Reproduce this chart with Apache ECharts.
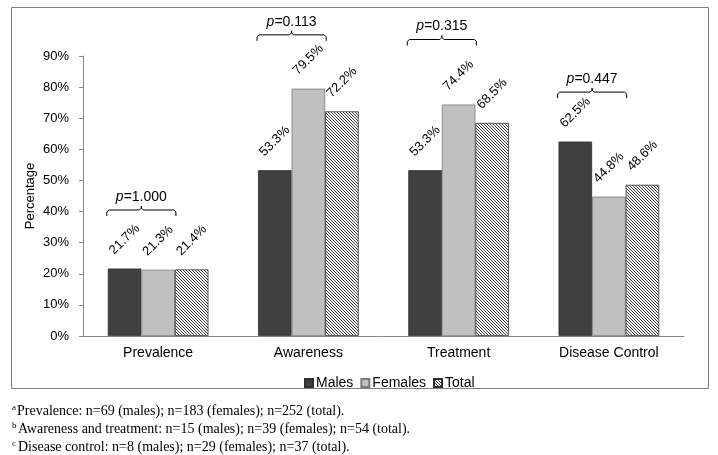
<!DOCTYPE html>
<html>
<head>
<meta charset="utf-8">
<script src="https://cdn.jsdelivr.net/npm/echarts@6/dist/echarts.min.js"></script>
<style>html,body{margin:0;padding:0;background:#fff}#c{width:718px;height:455px}</style>
</head>
<body>
<div id="c"></div>
<script>
const categories = ['Prevalence', 'Awareness', 'Treatment', 'Disease Control'];
const males = [21.7, 53.3, 53.3, 62.5];
const females = [21.3, 79.5, 74.4, 44.8];
const total = [21.4, 72.2, 68.5, 48.6];
const pValues = ['1.000', '0.113', '0.315', '0.447'];
const bracketLevels = [40.5, 96.8, 95.3, 78.4];
const yTicks = [0, 10, 20, 30, 40, 50, 60, 70, 80, 90];
const footnotes = [
  ['a', 'Prevalence: n=69 (males); n=183 (females); n=252 (total).'],
  ['b', 'Awareness and treatment: n=15 (males); n=39 (females); n=54 (total).'],
  ['c', 'Disease control: n=8 (males); n=29 (females); n=37 (total).']
];

function hatch() {
  const s = 3, cv = document.createElement('canvas');
  cv.width = s; cv.height = s;
  const ctx = cv.getContext('2d');
  ctx.fillStyle = '#ffffff'; ctx.fillRect(0, 0, s, s);
  ctx.strokeStyle = '#3a3a3a'; ctx.lineWidth = 1;
  for (const c of [-s, 0, s]) {
    ctx.beginPath(); ctx.moveTo(0, c); ctx.lineTo(s, s + c); ctx.stroke();
  }
  return cv;
}

const FONT = 'Liberation Sans, Arial, sans-serif';
const GAP = 0.33;
const chart = echarts.init(document.getElementById('c'), null, {renderer: 'canvas'});

const labelCfg = {
  show: true, position: 'top', distance: 29, rotate: 45,
  align: 'center', verticalAlign: 'middle',
  fontFamily: FONT, fontSize: 13, color: '#000',
  formatter: p => p.value.toFixed(1) + '%'
};

chart.setOption({
  animation: false,
  backgroundColor: '#fff',
  textStyle: {fontFamily: FONT},
  grid: {left: 83, right: 34, top: 56, bottom: 119},
  legend: {
    data: ['Males', 'Females', 'Total'],
    left: 299, top: 371, itemWidth: 8, itemHeight: 8, itemGap: 7,
    icon: 'rect',
    textStyle: {fontFamily: FONT, fontSize: 14, color: '#000', padding: [0, 0, 0, -2]}
  },
  xAxis: {
    type: 'category', data: categories,
    axisLine: {lineStyle: {color: '#868686'}},
    axisTick: {length: 4, lineStyle: {color: '#868686'}},
    axisLabel: {fontFamily: FONT, fontSize: 14, color: '#000', margin: 10}
  },
  yAxis: {
    type: 'value', min: yTicks[0], max: yTicks[yTicks.length - 1], interval: 10,
    name: 'Percentage', nameLocation: 'middle', nameGap: 46, nameMoveOverlap: false,
    nameTextStyle: {fontFamily: FONT, fontSize: 13, color: '#000'},
    splitLine: {show: false},
    axisLine: {show: true, lineStyle: {color: '#868686'}},
    axisTick: {show: true, length: 4, lineStyle: {color: '#868686'}},
    axisLabel: {fontFamily: FONT, fontSize: 13, color: '#000', margin: 14, formatter: '{value}%'}
  },
  series: [
    {name: 'Males', type: 'bar', data: males, barGap: '0%', barCategoryGap: (GAP * 100) + '%',
     itemStyle: {color: '#404040', borderColor: '#303030', borderWidth: 0.8}, label: labelCfg},
    {name: 'Females', type: 'bar', data: females, barGap: '0%', barCategoryGap: (GAP * 100) + '%',
     itemStyle: {color: '#c0c0c0', borderColor: '#7a7a7a', borderWidth: 0.8}, label: labelCfg},
    {name: 'Total', type: 'bar', data: total, barGap: '0%', barCategoryGap: (GAP * 100) + '%',
     itemStyle: {color: {image: hatch(), repeat: 'repeat'}, borderColor: '#303030', borderWidth: 0.8}, label: labelCfg},
    {
      type: 'custom', clip: false, silent: true, z: 10,
      data: bracketLevels.map((v, i) => [i, v]),
      renderItem: function (params, api) {
        const c = api.coord([api.value(0), api.value(1)]);
        const band = api.size([1, 0])[0];
        const bw = band * (1 - GAP) / 3;
        const x1 = c[0] - 1.5 * bw - 1, x2 = c[0] + 0.5 * bw + 1, xm = c[0] - 0.5 * bw;
        const y = c[1];
        const pts = [[x1, y + 6], [x1, y + 2], [x1 + 2, y], [xm - 2, y], [xm, y - 2], [xm, y - 4],
                     [xm, y - 2], [xm + 2, y], [x2 - 2, y], [x2, y + 2], [x2, y + 6]];
        return {
          type: 'group',
          children: [
            {type: 'polyline', shape: {points: pts}, style: {stroke: '#000', lineWidth: 1, fill: null}},
            {type: 'text', style: {
              text: '{i|p}=' + pValues[params.dataIndex], x: xm, y: y - 13,
              align: 'center', verticalAlign: 'middle',
              font: '14px ' + FONT, fill: '#000',
              rich: {i: {fontStyle: 'italic', fontSize: 14, fontFamily: FONT, fill: '#000'}}
            }}
          ]
        };
      }
    }
  ],
  graphic: [
    {type: 'rect', shape: {x: 11.5, y: 7.5, width: 697, height: 381},
     style: {fill: null, stroke: '#7f7f7f', lineWidth: 1}, silent: true, z: -1}
  ].concat(footnotes.map((f, i) => ({
    type: 'group', left: 12, top: 403 + i * 18,
    children: [
      {type: 'text', x: 0, y: 0, style: {text: f[0], font: '9px Liberation Serif, Times New Roman, serif', fill: '#000'}},
      {type: 'text', x: f[0] === 'a' ? 5 : 6, y: 1, style: {text: f[1], font: '14px Liberation Serif, Times New Roman, serif', fill: '#000'}}
    ]
  })))
});
</script>
</body>
</html>
